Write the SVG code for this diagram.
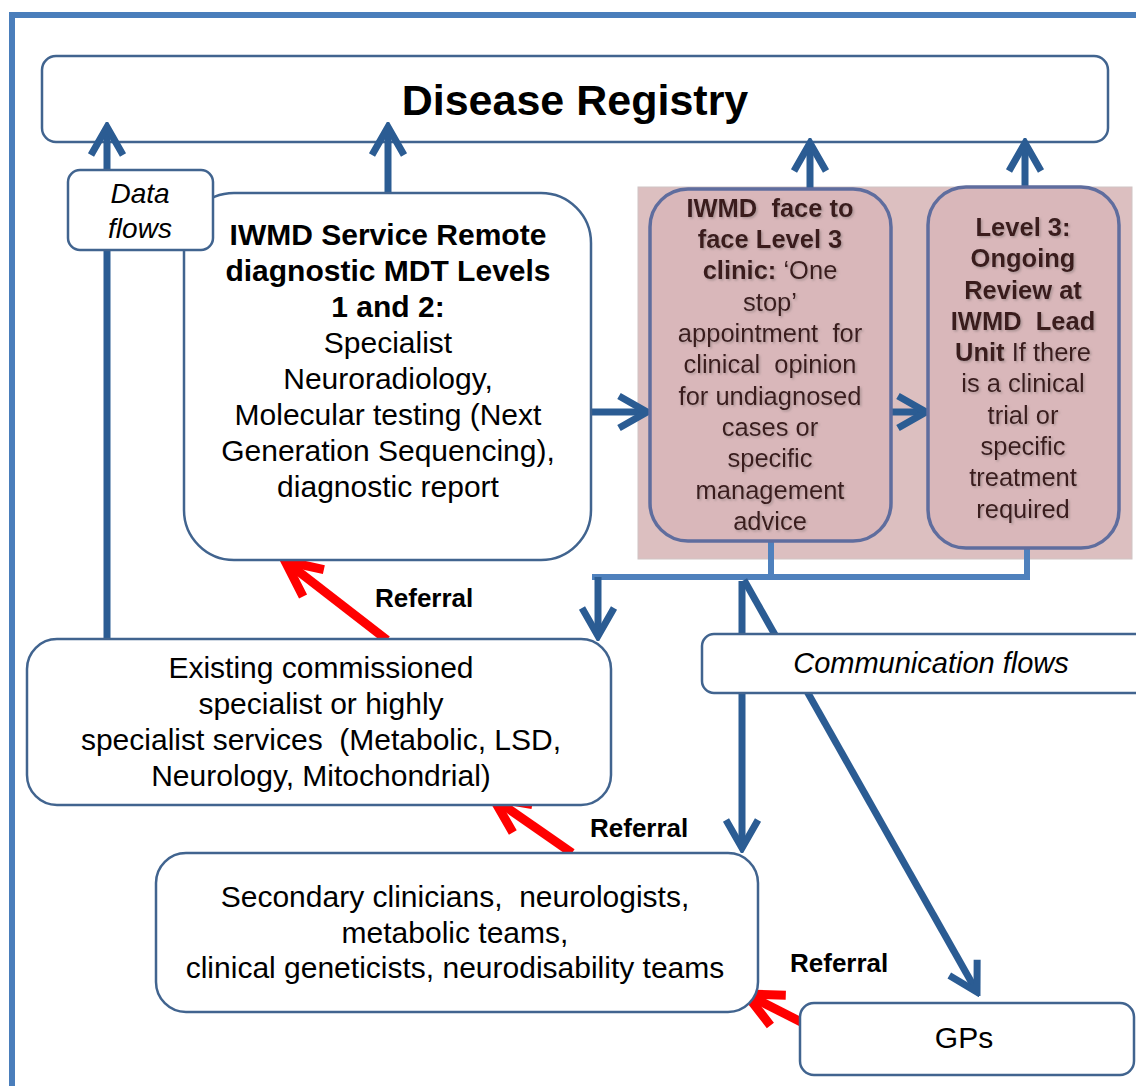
<svg xmlns="http://www.w3.org/2000/svg" width="1136" height="1086" viewBox="0 0 1136 1086">
<defs>
<style>
text{font-family:"Liberation Sans",Arial,sans-serif;fill:#000;white-space:pre}
.box{fill:#fff;stroke:#41648f;stroke-width:2.5}
.pbox{fill:#d9b7ba;stroke:#5f6d9e;stroke-width:3.5}
.c{text-anchor:middle}
.b{font-weight:bold}
.i{font-style:italic}
.t30{font-size:30px}
.pt{font-size:25.5px;fill:#3a1c1e;text-anchor:middle}
.ref{font-size:26px;font-weight:bold}
.blue{fill:none;stroke:#2b5c93;stroke-width:7}
.lblue{fill:none;stroke:#4f81bd;stroke-width:6}
.red{fill:none;stroke:#ff0000;stroke-width:9}
</style>
<filter id="sh" x="-10%" y="-10%" width="120%" height="140%">
<feDropShadow dx="1.5" dy="1.5" stdDeviation="1" flood-color="#8a7a7a" flood-opacity="0.6"/>
</filter>
<marker id="ab" viewBox="-40 -25 45 50" refX="0" refY="0" markerWidth="45" markerHeight="50" orient="auto" markerUnits="userSpaceOnUse">
<path d="M-28,-16 L0,0 L-28,16" fill="none" stroke="#2b5c93" stroke-width="7"/>
</marker>
<marker id="ar" viewBox="-45 -25 50 50" refX="0" refY="0" markerWidth="50" markerHeight="50" orient="auto" markerUnits="userSpaceOnUse">
<path d="M-36,-17 L0,0 L-36,17" fill="none" stroke="#ff0000" stroke-width="9"/>
</marker>
</defs>
<rect width="1136" height="1086" fill="#fff"/>
<rect x="12" y="15" width="1200" height="1200" fill="none" stroke="#4a7ebb" stroke-width="6"/>

<g id="disease-registry">
<rect class="box" x="42" y="56" width="1066" height="86" rx="14"/>
<text class="c b" x="575" y="115" font-size="43">Disease Registry</text>
</g>

<g id="pink-panel">
<rect x="638" y="187" width="494" height="372" fill="#dcbfc0" stroke="#d0c4c4" stroke-width="1"/>
</g>

<g id="connectors">
<line class="blue" x1="107" y1="640" x2="107" y2="127" marker-end="url(#ab)"/>
<line class="blue" x1="388" y1="193" x2="388" y2="127" marker-end="url(#ab)"/>
<line class="blue" x1="810" y1="188" x2="810" y2="143" marker-end="url(#ab)"/>
<line class="blue" x1="1025" y1="187" x2="1025" y2="143" marker-end="url(#ab)"/>
<line class="blue" x1="591" y1="412" x2="647" y2="412" marker-end="url(#ab)"/>
<line class="blue" x1="891" y1="412" x2="926" y2="412" marker-end="url(#ab)"/>
<path class="lblue" d="M771,542 V577 M1027,548 V577 M592,577 H1030"/>
<line class="blue" x1="598" y1="577" x2="598" y2="636" marker-end="url(#ab)"/>
<line class="blue" x1="742" y1="581" x2="742" y2="848" marker-end="url(#ab)"/>
<line class="blue" x1="744" y1="580" x2="977" y2="992" marker-end="url(#ab)"/>
<line class="red" x1="387" y1="640" x2="285" y2="561" marker-end="url(#ar)"/>
<line class="red" x1="572" y1="853" x2="493" y2="798" marker-end="url(#ar)"/>
<line class="red" x1="807" y1="1025" x2="746" y2="994" marker-end="url(#ar)"/>
</g>

<g id="iwmd-service">
<rect class="box" x="184" y="193" width="407" height="367" rx="50"/>
<text class="c t30 b" x="388" y="245">IWMD Service Remote</text>
<text class="c t30 b" x="388" y="281">diagnostic MDT Levels</text>
<text class="c t30 b" x="388" y="317">1 and 2:</text>
<text class="c t30" x="388" y="353">Specialist</text>
<text class="c t30" x="388" y="389">Neuroradiology,</text>
<text class="c t30" x="388" y="425">Molecular testing (Next</text>
<text class="c t30" x="388" y="461">Generation Sequencing),</text>
<text class="c t30" x="388" y="497">diagnostic report</text>
</g>

<g id="data-flows">
<rect class="box" x="68" y="170" width="145" height="80" rx="12"/>
<text class="c i" x="140" y="203" font-size="28">Data</text>
<text class="c i" x="140" y="238" font-size="28">flows</text>
</g>

<g id="face-to-face">
<rect class="pbox" x="650" y="189" width="241" height="352" rx="38"/>
<g filter="url(#sh)">
<text class="pt b" x="770" y="217">IWMD  face to</text>
<text class="pt b" x="770" y="248">face Level 3</text>
<text class="pt" x="770" y="279"><tspan class="b">clinic:</tspan> ‘One</text>
<text class="pt" x="770" y="311">stop’</text>
<text class="pt" x="770" y="342">appointment  for</text>
<text class="pt" x="770" y="373">clinical  opinion</text>
<text class="pt" x="770" y="405">for undiagnosed</text>
<text class="pt" x="770" y="436">cases or</text>
<text class="pt" x="770" y="467">specific</text>
<text class="pt" x="770" y="499">management</text>
<text class="pt" x="770" y="530">advice</text>
</g>
</g>

<g id="level3-review">
<rect class="pbox" x="928" y="187" width="191" height="361" rx="38"/>
<g filter="url(#sh)">
<text class="pt b" x="1023" y="236">Level 3:</text>
<text class="pt b" x="1023" y="267">Ongoing</text>
<text class="pt b" x="1023" y="299">Review at</text>
<text class="pt b" x="1023" y="330">IWMD  Lead</text>
<text class="pt" x="1023" y="361"><tspan class="b">Unit</tspan> If there</text>
<text class="pt" x="1023" y="392">is a clinical</text>
<text class="pt" x="1023" y="424">trial or</text>
<text class="pt" x="1023" y="455">specific</text>
<text class="pt" x="1023" y="486">treatment</text>
<text class="pt" x="1023" y="518">required</text>
</g>
</g>

<g id="existing-services">
<rect class="box" x="27" y="639" width="584" height="166" rx="30"/>
<text class="c t30" x="321" y="678">Existing commissioned</text>
<text class="c t30" x="321" y="714">specialist or highly</text>
<text class="c t30" x="321" y="750">specialist services  (Metabolic, LSD,</text>
<text class="c t30" x="321" y="786">Neurology, Mitochondrial)</text>
</g>

<g id="communication-flows">
<rect class="box" x="702" y="634" width="480" height="59" rx="12"/>
<text class="c i" x="931" y="673" font-size="29">Communication flows</text>
</g>

<g id="secondary-clinicians">
<rect class="box" x="156" y="853" width="602" height="159" rx="30"/>
<text class="c t30" x="455" y="907">Secondary clinicians,  neurologists,</text>
<text class="c t30" x="455" y="943">metabolic teams,</text>
<text class="c t30" x="455" y="978">clinical geneticists, neurodisability teams</text>
</g>

<g id="gps">
<rect class="box" x="800" y="1003" width="334" height="72" rx="14"/>
<text class="c t30" x="964" y="1048">GPs</text>
</g>

<g id="labels">
<text class="ref" x="375" y="607">Referral</text>
<text class="ref" x="590" y="837">Referral</text>
<text class="ref" x="790" y="972">Referral</text>
</g>
</svg>
